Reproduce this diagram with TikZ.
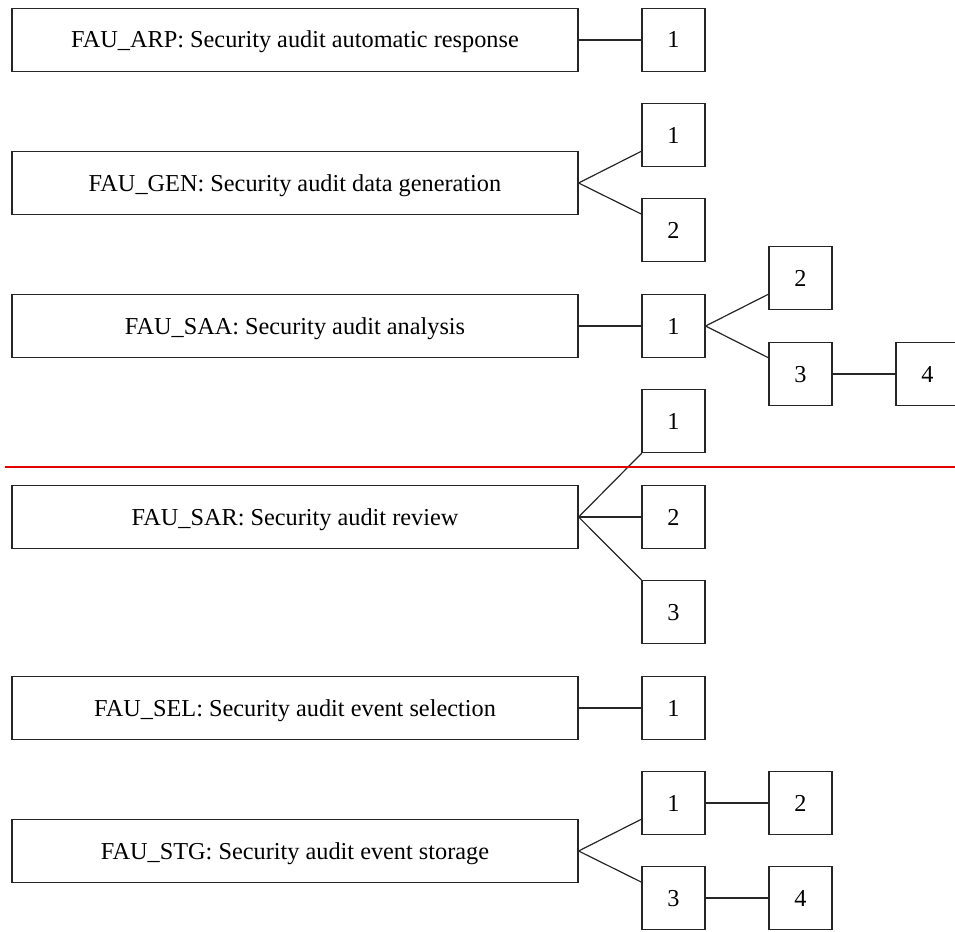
\documentclass[tikz,border=0pt]{standalone}
\usepackage{fontspec}
\setmainfont{Liberation Serif}
\begin{document}
\begin{tikzpicture}[x=1pt,y=-1pt,
  big/.style={draw=black!85,line width=1.2pt,minimum width=566pt,minimum height=63pt,inner sep=0pt,text height=16pt,text depth=0pt,font=\fontsize{24.3}{28}\selectfont},
  small/.style={draw=black!85,line width=1.2pt,minimum width=63pt,minimum height=63pt,inner sep=0pt,text height=16pt,text depth=0pt,font=\fontsize{24.3}{28}\selectfont},
  conn/.style={draw=black!85,line width=1.2pt}]
\useasboundingbox (0,0) rectangle (955,931);
% big boxes
\node[big] (arp) at (295,40) {FAU\_ARP: Security audit automatic response};
\node[big] (gen) at (295,183) {FAU\_GEN: Security audit data generation};
\node[big] (saa) at (295,326) {FAU\_SAA: Security audit analysis};
\node[big] (sar) at (295,517) {FAU\_SAR: Security audit review};
\node[big] (sel) at (295,708) {FAU\_SEL: Security audit event selection};
\node[big] (stg) at (295,851) {FAU\_STG: Security audit event storage};
% small boxes
\node[small] (arp1) at (673.5,40) {1};
\node[small] (gen1) at (673.5,135) {1};
\node[small] (gen2) at (673.5,230) {2};
\node[small] (saa1) at (673.5,326) {1};
\node[small] (saa2) at (800.5,278) {2};
\node[small] (saa3) at (800.5,374) {3};
\node[small] (saa4) at (927.5,374) {4};
\node[small] (sar1) at (673.5,421) {1};
\node[small] (sar2) at (673.5,517) {2};
\node[small] (sar3) at (673.5,612) {3};
\node[small] (sel1) at (673.5,708) {1};
\node[small] (stg1) at (673.5,803) {1};
\node[small] (stg2) at (800.5,803) {2};
\node[small] (stg3) at (673.5,898) {3};
\node[small] (stg4) at (800.5,898) {4};
% connectors
\draw[conn] (arp.east) -- (arp1.west);
\draw[conn] (gen.east) -- (gen1);
\draw[conn] (gen.east) -- (gen2);
\draw[conn] (saa.east) -- (saa1.west);
\draw[conn] (saa1.east) -- (saa2);
\draw[conn] (saa1.east) -- (saa3);
\draw[conn] (saa3.east) -- (saa4.west);
\draw[conn] (sar.east) -- (sar1);
\draw[conn] (sar.east) -- (sar2.west);
\draw[conn] (sar.east) -- (sar3);
\draw[conn] (sel.east) -- (sel1.west);
\draw[conn] (stg.east) -- (stg1);
\draw[conn] (stg.east) -- (stg3);
\draw[conn] (stg1.east) -- (stg2.west);
\draw[conn] (stg3.east) -- (stg4.west);
% red line
\coordinate (rl) at (5,467);
\coordinate (rr) at (955,467);
\draw[red!90!black,line width=1.5pt] (rl) -- (rr);
\end{tikzpicture}
\end{document}
